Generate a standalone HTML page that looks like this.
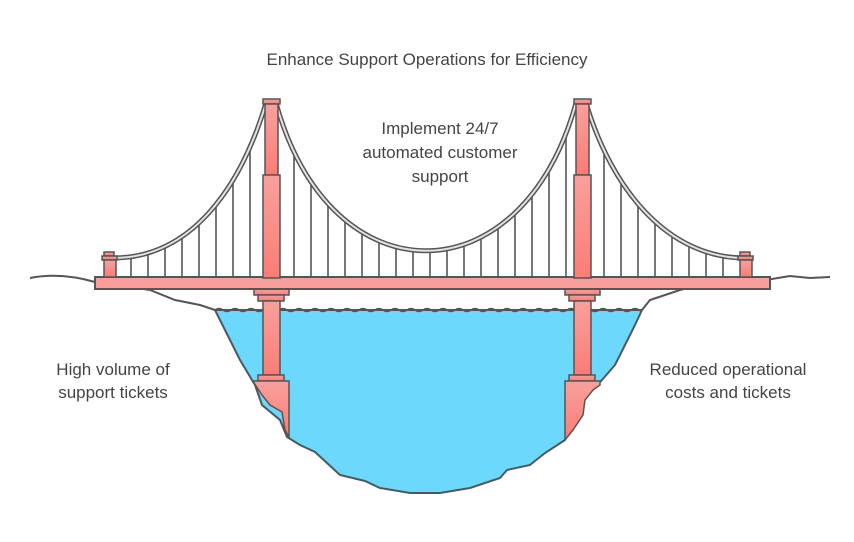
<!DOCTYPE html>
<html><head><meta charset="utf-8"><style>
body{margin:0;background:#fff;width:854px;height:542px;overflow:hidden}
svg{display:block}
text{font-family:"Liberation Sans",sans-serif;fill:#444;font-size:17px}
</style></head><body>
<svg id="s" width="854" height="542" viewBox="0 0 854 542">
<defs>
<linearGradient id="tw" x1="0" y1="0" x2="0" y2="1"><stop offset="0" stop-color="#f9a09c"/><stop offset="1" stop-color="#fa7d76"/></linearGradient>
<clipPath id="wc"><rect x="215" y="290" width="427" height="40"/></clipPath>
</defs>
<!-- water -->
<path d="M215 310 L225 330 240 360 255 385 262 405 280 420 287 437 300 445 315 452 340 475 365 481 380 488 410 493 440 493 470 488 500 478 507 470 530 465 545 453 565 440 575 420 583 400 592 390 602 380 615 365 625 345 635 325 642 310 Z" fill="#6cd9fc" stroke="#555" stroke-width="2"/>
<path clip-path="url(#wc)" d="M215 310 q4 -3 8 0 q4 3 8 0 q4 -3 8 0 q4 3 8 0 q4 -3 8 0 q4 3 8 0 q4 -3 8 0 q4 3 8 0 q4 -3 8 0 q4 3 8 0 q4 -3 8 0 q4 3 8 0 q4 -3 8 0 q4 3 8 0 q4 -3 8 0 q4 3 8 0 q4 -3 8 0 q4 3 8 0 q4 -3 8 0 q4 3 8 0 q4 -3 8 0 q4 3 8 0 q4 -3 8 0 q4 3 8 0 q4 -3 8 0 q4 3 8 0 q4 -3 8 0 q4 3 8 0 q4 -3 8 0 q4 3 8 0 q4 -3 8 0 q4 3 8 0 q4 -3 8 0 q4 3 8 0 q4 -3 8 0 q4 3 8 0 q4 -3 8 0 q4 3 8 0 q4 -3 8 0 q4 3 8 0 q4 -3 8 0 q4 3 8 0 q4 -3 8 0 q4 3 8 0 q4 -3 8 0 q4 3 8 0 q4 -3 8 0 q4 3 8 0 q4 -3 8 0 q4 3 8 0 q4 -3 8 0 q4 3 8 0 q4 -3 8 0 q4 3 8 0 q4 -3 8 0 q4 3 8 0" fill="none" stroke="#555" stroke-width="1.5"/>
<!-- land -->
<path d="M30 278 Q60 272 95 282 L130 287 150 290 175 300 200 305 215 310" fill="none" stroke="#555" stroke-width="2"/>
<path d="M642 310 L650 300 680 290 700 285 720 282 760 281 790 276 810 278 830 277" fill="none" stroke="#555" stroke-width="2"/>
<!-- piers -->
<g stroke="#555" stroke-width="1.5" fill="url(#tw)">
<rect x="254" y="289" width="35" height="6"/><rect x="258" y="295" width="26" height="6"/>
<rect x="263" y="301" width="17" height="74"/><rect x="258" y="375" width="26" height="6"/>
<path d="M254 381 L289 381 289 437 285 430 282 412 270 405 262 395 254 383Z"/>
<rect x="565" y="289" width="35" height="6"/><rect x="569" y="295" width="26" height="6"/>
<rect x="574" y="301" width="17" height="74"/><rect x="569" y="375" width="26" height="6"/>
<path d="M565 381 L600 381 600 385 593 390 585 400 583 415 573 430 565 440Z"/>
</g>
<!-- deck -->
<rect x="95" y="277" width="675" height="12" fill="#fa9e99" stroke="#555" stroke-width="2"/>
<g id="hang" stroke="#555" stroke-width="1.6"></g>
<!-- cables -->
<g fill="none" stroke-linecap="round">
<path d="M113 258 C190 258 240 190 266 103" stroke="#555" stroke-width="5"/>
<path d="M113 258 C190 258 240 190 266 103" stroke="#e2e2e2" stroke-width="2"/>
<path d="M276 103 C330 300 522 300 576 103" stroke="#555" stroke-width="5"/>
<path d="M276 103 C330 300 522 300 576 103" stroke="#e2e2e2" stroke-width="2"/>
<path d="M586 103 C612 190 668 258 745 258" stroke="#555" stroke-width="5"/>
<path d="M586 103 C612 190 668 258 745 258" stroke="#e2e2e2" stroke-width="2"/>
</g>
<!-- towers -->
<g stroke="#555" stroke-width="1.5" fill="url(#tw)">
<rect x="263" y="99" width="17" height="5"/><rect x="265" y="104" width="13" height="71"/><rect x="263" y="175" width="17" height="103"/>
<rect x="574" y="99" width="17" height="5"/><rect x="576" y="104" width="13" height="71"/><rect x="574" y="175" width="17" height="103"/>
<rect x="104" y="252" width="10" height="4"/><rect x="102" y="256" width="15" height="4"/><rect x="104" y="260" width="12" height="17"/>
<rect x="740" y="252" width="10" height="4"/><rect x="738" y="256" width="15" height="4"/><rect x="740" y="260" width="12" height="17"/>
</g>
<text x="427" y="65" text-anchor="middle">Enhance Support Operations for Efficiency</text>
<text x="440" y="134" text-anchor="middle">Implement 24/7</text>
<text x="440" y="158" text-anchor="middle">automated customer</text>
<text x="440" y="182" text-anchor="middle">support</text>
<text x="113" y="375" text-anchor="middle">High volume of</text>
<text x="113" y="398" text-anchor="middle">support tickets</text>
<text x="728" y="375" text-anchor="middle">Reduced operational</text>
<text x="728" y="398" text-anchor="middle">costs and tickets</text>
</svg>
<script>
var g=document.getElementById('hang'),s='';
function c(P,x){function b(t,i){var u=1-t;return u*u*u*P[0][i]+3*u*u*t*P[1][i]+3*u*t*t*P[2][i]+t*t*t*P[3][i];}
var lo=0,hi=1,inc=P[0][0]<P[3][0];for(var k=0;k<40;k++){var t=(lo+hi)/2;if((b(t,0)<x)==inc)lo=t;else hi=t;}return b((lo+hi)/2,1);}
var A=[[113,258],[190,258],[240,190],[266,103]],B=[[276,103],[330,300],[522,300],[576,103]],C=[[586,103],[612,190],[668,258],[745,258]];
for(var x=131;x<262;x+=17){s+='<line x1="'+x+'" x2="'+x+'" y1="'+c(A,x)+'" y2="277"/>';}
for(var x=294;x<572;x+=17){s+='<line x1="'+x+'" x2="'+x+'" y1="'+c(B,x)+'" y2="277"/>';}
for(var x=604;x<738;x+=17){s+='<line x1="'+x+'" x2="'+x+'" y1="'+c(C,x)+'" y2="277"/>';}
g.innerHTML=s;
</script>
</body></html>
